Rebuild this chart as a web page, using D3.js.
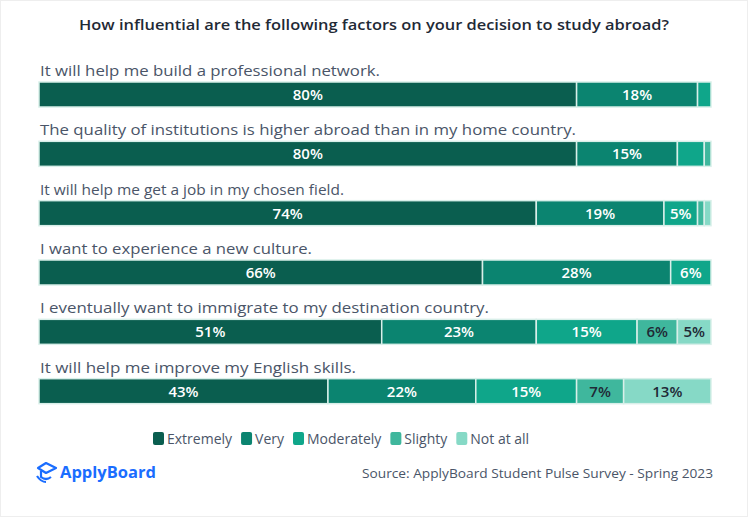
<!DOCTYPE html>
<html><head><meta charset="utf-8">
<script src="https://cdn.jsdelivr.net/npm/d3@7"></script>
<style>body{margin:0;background:#fff;font-family:"Open Sans","Noto Sans",sans-serif}</style>
</head><body><svg id="c" width="748" height="517"></svg>
<script>
const questions = [
 "It will help me build a professional network.",
 "The quality of institutions is higher abroad than in my home country.",
 "It will help me get a job in my chosen field.",
 "I want to experience a new culture.",
 "I eventually want to immigrate to my destination country.",
 "It will help me improve my English skills."
];
const seriesNames = ["Extremely","Very","Moderately","Slighty","Not at all"];
const extremely = [80,80,74,66,51,43];
const very = [18,15,19,28,23,22];
const moderately = [2,4,5,6,15,15];
const slightly = [0,1,1,0,6,7];
const notAtAll = [0,0,1,0,5,13];
const colors = ["#0a5e4f","#0b8470","#0fa68a","#3fb79d","#86d9c6"];
const textCols = ["#fff","#fff","#fff","#1f2a36","#1f2a36"];
const data = [extremely,very,moderately,slightly,notAtAll];

const svg = d3.select("#c");
svg.append("rect").attr("x",0.5).attr("y",0.5).attr("width",747).attr("height",516).attr("fill","#fff").attr("stroke","#eee");
function fit(t,w){ t.attr("textLength",w).attr("lengthAdjust","spacingAndGlyphs"); }
const title = svg.append("text").attr("x",374).attr("y",30).attr("text-anchor","middle").attr("font-size",15).attr("font-weight",600).attr("fill","#1f2a36")
 .text("How influential are the following factors on your decision to study abroad?");
fit(title,590);

const x = d3.scaleLinear().domain([0,100]).range([39,711]);
const y = d3.scaleBand().domain(d3.range(questions.length)).range([59,415]).paddingInner(0);
const barH = 25;
const labelW = [340,536,304,272,449,316];
questions.forEach((q,i)=>{
  const top = y(i)+23;
  const t = svg.append("text").attr("x",40).attr("y",top-6).attr("font-size",15).attr("fill","#4a5568").text(q);
  fit(t,labelW[i]);
  let cum=0;
  data.forEach((s,k)=>{
    const v=s[i]; if(!v){return;}
    const x0=x(cum), x1=x(cum+v); cum+=v;
    svg.append("rect").attr("x",x0).attr("y",top).attr("width",x1-x0).attr("height",barH)
      .attr("fill",colors[k]).attr("stroke","#d8efe9").attr("stroke-width",1.5);
    if(v>=5) svg.append("text").attr("x",(x0+x1)/2).attr("y",top+barH/2+5.5).attr("text-anchor","middle")
      .attr("font-size",15).attr("font-weight",600).attr("fill",textCols[k]).text(v+"%");
  });
});

// legend
const lg = svg.append("g");
let lx = 153;
seriesNames.forEach((n,k)=>{
  lg.append("rect").attr("x",lx).attr("y",432).attr("width",11).attr("height",13).attr("rx",2).attr("fill",colors[k]);
  const t = lg.append("text").attr("x",lx+14).attr("y",444).attr("font-size",14).attr("fill","#4a5568").text(n);
  lx += 14 + t.node().getComputedTextLength() + 9;
});

// logo
const logo = svg.append("g").attr("transform","translate(36,462)");
logo.append("path").attr("d","M2 6 L10 1 L20 6 L10 11 Z M5 9 v6 q5 4 10 0 M1 14 q4 6 9 6").attr("fill","none").attr("stroke","#1a6dff").attr("stroke-width",2.2).attr("stroke-linejoin","round");
svg.append("text").attr("x",60).attr("y",478).attr("font-size",16.5).attr("font-weight",700).attr("fill","#1a6dff").text("ApplyBoard");
const src = svg.append("text").attr("x",362).attr("y",478).attr("font-size",13).attr("fill","#4a5568").text("Source: ApplyBoard Student Pulse Survey - Spring 2023");
fit(src,351);
</script></body></html>
